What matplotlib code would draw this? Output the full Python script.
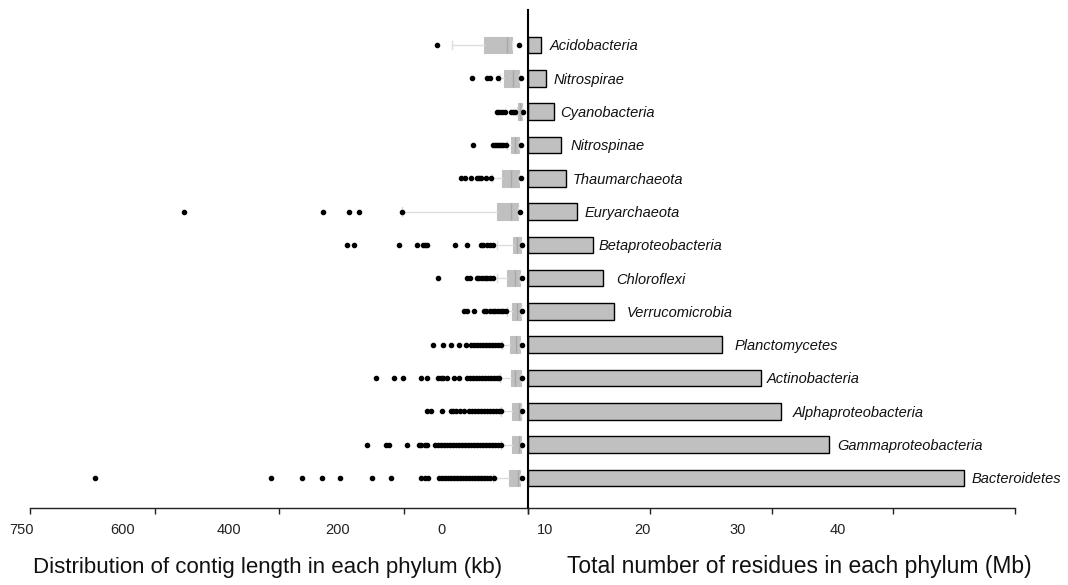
"""Contig length distribution and total residues per phylum."""

import matplotlib
matplotlib.use("Agg")
import matplotlib.pyplot as plt

# phyla, listed top to bottom
phyla = [
    "Acidobacteria", "Nitrospirae", "Cyanobacteria", "Nitrospinae",
    "Thaumarchaeota", "Euryarchaeota", "Betaproteobacteria", "Chloroflexi",
    "Verrucomicrobia", "Planctomycetes", "Actinobacteria",
    "Alphaproteobacteria", "Gammaproteobacteria", "Bacteroidetes",
]

# total number of residues (Mb)
residues_mb = [1.1, 1.5, 2.1, 2.7, 3.1, 4.0, 5.3, 6.2, 7.1,
               15.9, 19.1, 20.8, 24.7, 35.8]

# contig length summary (kb)
q1_kb = [24, 13.6, 9, 13.6, 13.6, 15, 10.5, 12, 10.5, 12, 10.5, 10.5, 10.5, 12]
median_kb = [32, 22.6, 12, 19.6, 25.6, 25.6, 16.6, 19.6, 16.6, 18, 19.6, 13.6, 13.6, 15]
q3_kb = [66, 36, 15, 25.6, 39, 47, 22.6, 31.6, 24, 27, 25.6, 24, 24, 28.6]
whisker_hi_kb = [114, 42, 16.6, 31.6, 54, 190, 47, 47, 31.6, 39, 42, 41, 41, 53]
min_kb = [13, 10.5, 7.5, 10.5, 10.5, 12, 9, 9, 9, 9, 9, 9, 9, 9]
outliers_kb = [
    [137],
    [84, 62, 57, 45],
    [47, 44, 39, 35, 26, 23, 20],
    [83, 53, 50, 47, 44, 41, 38, 33],
    [101, 95, 86, 77, 74, 71, 63, 56],
    [518, 309, 270, 255, 190],
    [273, 262, 194, 167, 158, 155, 152, 110, 92, 71, 68, 62, 57, 53],
    [136, 92, 87, 77, 74, 69, 65, 62, 57, 53],
    [96, 92, 81, 66, 63, 57, 53, 50, 45, 41, 38, 33],
    [143, 128, 116, 104, 93, 86, 81, 77, 72, 68, 63, 59, 54, 50, 45, 41],
    [229, 202, 188, 161, 152, 136, 131, 128, 122, 111, 104,
     92, 87, 83, 78, 74, 69, 65, 60, 56, 51, 47, 44],
    [152, 146, 130, 116, 113, 108, 102, 96,
     89, 84, 80, 75, 71, 66, 62, 57, 53, 48, 44, 41],
    [242, 214, 209, 182, 164, 161, 155, 152, 140, 136, 131, 127, 122, 117,
     113, 108, 104, 99, 95, 90, 86, 81, 77, 72, 68, 63, 59, 54, 50, 45, 41],
    [652, 387, 340, 310, 283, 235, 206, 161, 155, 151, 134, 130, 125, 120,
     116, 111, 107, 102, 98, 93, 89, 84, 80, 75, 71, 66, 62, 57, 51],
]

# bottom tick labels as printed in the figure
left_tick_labels = ["750", "600", "400", "200", "0"]
right_tick_labels = ["10", "20", "30", "40"]

# gap between bar end and its name, in points
label_pad = [6, 5.5, 5, 7, 5, 6, 4.5, 9, 9, 9, 4.5, 8.5, 6.5, 5.5]

W, H = 1068, 585
BOX_GREY = "#c0c0c0"


def fx(px):
    return px / W


def fy(py):
    return 1 - py / H


def main():
    plt.rcParams["font.family"] = ["Liberation Sans", "DejaVu Sans"]
    fig = plt.figure(figsize=(W / 100, H / 100), dpi=100)

    top, bottom = 10, 508
    ax_box = fig.add_axes([fx(30), fy(bottom), fx(528 - 30), (bottom - top) / H])
    ax_bar = fig.add_axes([fx(528), fy(bottom), fx(1015 - 528), (bottom - top) / H],
                          sharey=ax_box)

    n = len(phyla)
    pos = [n - 1 - i for i in range(n)]

    stats = []
    for i in range(n):
        stats.append(dict(q1=q1_kb[i], med=median_kb[i], q3=q3_kb[i],
                          whislo=q1_kb[i], whishi=whisker_hi_kb[i],
                          fliers=outliers_kb[i]))
    ax_box.bxp(stats, positions=pos, widths=0.5, orientation="horizontal",
               patch_artist=True, showcaps=True,
               boxprops=dict(facecolor=BOX_GREY, edgecolor=BOX_GREY, linewidth=0.8),
               medianprops=dict(color="#a8a8a8", linewidth=1),
               whiskerprops=dict(color="#dddddd", linewidth=1),
               capprops=dict(color="#dddddd", linewidth=1),
               flierprops=dict(marker="o", markerfacecolor="black",
                               markeredgecolor="black", markersize=3))
    ax_box.plot(min_kb, pos, "o", color="black", markersize=3, linestyle="none")

    ax_box.set_xlim(750, 0)
    ax_box.set_ylim(-0.9, n + 0.05)
    ax_box.set_xticks([0, 187.5, 375, 562.5, 750])
    ax_box.set_xticklabels([])
    ax_box.set_yticks([])
    for side in ("top", "right", "left"):
        ax_box.spines[side].set_visible(False)

    ax_bar.barh(pos, residues_mb, height=0.5, color=BOX_GREY,
                edgecolor="black", linewidth=1)
    for p, v, name, pad in zip(pos, residues_mb, phyla, label_pad):
        ax_bar.annotate(name, (v, p), xytext=(pad, -1), textcoords="offset points",
                        va="center", ha="left", style="italic", fontsize=10.5,
                        color="#111111")
    ax_bar.set_xlim(0, 40)
    ax_bar.set_xticks([0, 10, 20, 30, 40])
    ax_bar.set_xticklabels([])
    ax_bar.tick_params(axis="y", left=False, labelleft=False)
    for side in ("top", "right"):
        ax_bar.spines[side].set_visible(False)
    ax_bar.spines["left"].set_linewidth(1.5)

    for ax in (ax_box, ax_bar):
        ax.patch.set_visible(False)
        ax.spines["bottom"].set_color("#222222")
        ax.spines["bottom"].set_linewidth(1)
        ax.tick_params(axis="x", direction="out", length=4, width=1, color="#222222")

    # tick labels sit offset from the tick marks in the original
    for px, lab in zip([22, 123, 229, 338, 441], left_tick_labels):
        fig.text(fx(px), fy(530), lab, ha="center", va="center", fontsize=10.5,
                 color="#222222")
    for px, lab in zip([545, 642, 738, 838], right_tick_labels):
        fig.text(fx(px), fy(530), lab, ha="center", va="center", fontsize=10.5,
                 color="#222222")

    fig.text(fx(268), fy(567), "Distribution of contig length in each phylum (kb)",
             ha="center", va="center", fontsize=16, color="#111111")
    fig.text(fx(799), fy(567), "Total number of residues in each phylum (Mb)",
             ha="center", va="center", fontsize=16.5, color="#111111")

    fig.savefig("out.png", dpi=100)
    plt.close(fig)


if __name__ == "__main__":
    main()
